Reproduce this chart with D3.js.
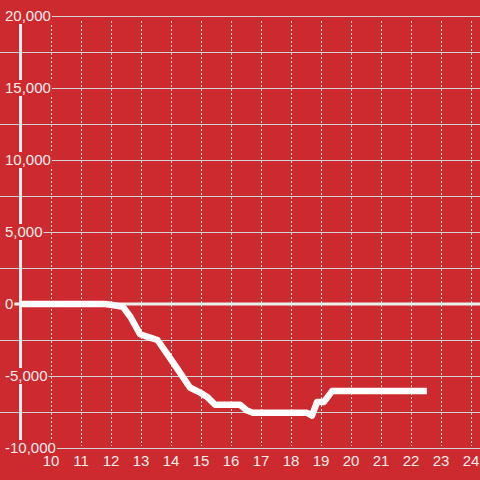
<!DOCTYPE html>
<html>
<head>
<meta charset="utf-8">
<script src="https://cdn.jsdelivr.net/npm/d3@7"></script>
<style>
  html, body { margin: 0; padding: 0; background: #cc2a2f; }
  svg { display: block; font-family: "Liberation Sans", Arial, sans-serif; }
</style>
</head>
<body>
<div id="chart"></div>
<script>
// the series
const hours = [9, 11.8, 12.05, 12.4, 12.65, 12.97, 13.25, 13.55, 14.13, 14.63, 14.97,
  15.23, 15.47, 16.3, 16.53, 16.73, 18.53, 18.7, 18.87, 19.1, 19.37, 22.53];
const values = [0, 0, -70, -200, -900, -2100, -2300, -2500, -4250, -5800, -6150,
  -6500, -7000, -7000, -7400, -7550, -7550, -7750, -6800, -6800, -6050, -6050];

const xTicks = [10, 11, 12, 13, 14, 15, 16, 17, 18, 19, 20, 21, 22, 23, 24];
const yLabelTicks = [20000, 15000, 10000, 5000, 0, -5000, -10000];
const yGridTicks = [20000, 17500, 15000, 12500, 10000, 7500, 5000, 2500,
  -2500, -5000, -7500, -10000];

const COLOR = {
  bg: "#cc2a2f",
  grid: "#d2d2d2",
  dash: "#e6e6e6",
  text: "#f5eded",
  axis: "#eeeeee",
  line: "#ffffff",
};

const width = 480;
const height = 480;

const x = d3.scaleLinear().domain([9, 24.3]).range([21, 480]);
const y = d3.scaleLinear().domain([-10000, 20000]).range([448, 16]);

const svg = d3.select("#chart")
  .append("svg")
  .attr("width", width)
  .attr("height", height);

svg.append("rect")
  .attr("width", width)
  .attr("height", height)
  .attr("fill", COLOR.bg);

// ---- horizontal grid ----
svg.append("g")
  .selectAll("line")
  .data(yGridTicks)
  .join("line")
  .attr("x1", 0)
  .attr("x2", width)
  .attr("y1", (d) => y(d) + 0.5)
  .attr("y2", (d) => y(d) + 0.5)
  .attr("stroke", COLOR.grid)
  .attr("stroke-width", 1);

// ---- vertical dashed grid ----
svg.append("g")
  .selectAll("line")
  .data(xTicks)
  .join("line")
  .attr("x1", (d) => Math.round(x(d)) + 0.5)
  .attr("x2", (d) => Math.round(x(d)) + 0.5)
  .attr("y1", y(20000) + 5)
  .attr("y2", y(-10000) - 2)
  .attr("stroke", COLOR.dash)
  .attr("stroke-width", 1)
  .attr("stroke-dasharray", "2,2");

// ---- zero line ----
svg.append("line")
  .attr("x1", 0)
  .attr("x2", width)
  .attr("y1", y(0))
  .attr("y2", y(0))
  .attr("stroke", COLOR.axis)
  .attr("stroke-width", 3);

// ---- y axis bar ----
svg.append("line")
  .attr("x1", 20.5)
  .attr("x2", 20.5)
  .attr("y1", y(20000))
  .attr("y2", y(-10000))
  .attr("stroke", COLOR.axis)
  .attr("stroke-width", 3);

// ---- data line ----
const line = d3.line()
  .x((d, i) => x(hours[i]))
  .y((d) => y(d));

svg.append("path")
  .datum(values)
  .attr("d", line)
  .attr("fill", "none")
  .attr("stroke", COLOR.line)
  .attr("stroke-width", 6.5)
  .attr("stroke-linejoin", "round");

// ---- y labels, on a red box that hides grid and axis ----
const fmt = d3.format(",");
const yLab = svg.append("g")
  .selectAll("g")
  .data(yLabelTicks)
  .join("g");

yLab.append("text")
  .attr("x", 5)
  .attr("y", (d) => y(d))
  .attr("dy", "0.36em")
  .attr("font-size", 15)
  .attr("fill", COLOR.text)
  .text((d) => fmt(d).replace("−", "-"));

yLab.each(function () {
  const t = d3.select(this).select("text");
  const b = t.node().getBBox();
  d3.select(this).insert("rect", "text")
    .attr("x", 0)
    .attr("y", y(t.datum()) - 8)
    .attr("width", b.x + b.width + 1)
    .attr("height", 16)
    .attr("fill", COLOR.bg);
});

// ---- x labels ----
svg.append("g")
  .selectAll("text")
  .data(xTicks)
  .join("text")
  .attr("x", (d) => x(d))
  .attr("y", 466)
  .attr("text-anchor", "middle")
  .attr("font-size", 15)
  .attr("fill", COLOR.text)
  .text((d) => d);
</script>
</body>
</html>
